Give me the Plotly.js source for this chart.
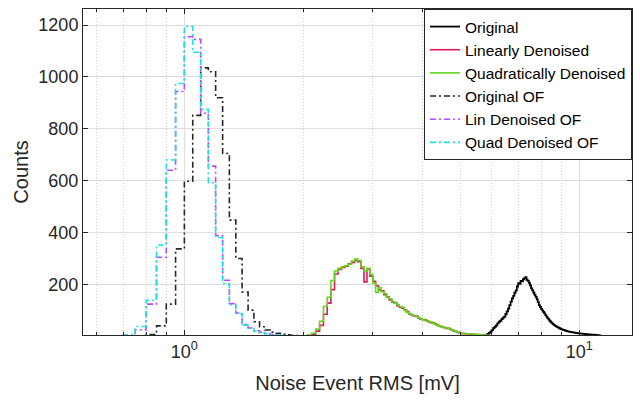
<!DOCTYPE html>
<html>
<head>
<meta charset="utf-8">
<script src="https://cdn.plot.ly/plotly-3.0.1.min.js"></script>
<style>html,body{margin:0;padding:0;background:#fff;}#chart{width:640px;height:400px;}</style>
</head>
<body>
<div id="chart"></div>
<script>
// ---- Data (histogram counts, bin width 0.05 mV) ----
const binWidth = 0.05;

// Optimal-filter (OF) histograms, bins starting at 0.70 mV
const ofBinStart = 0.70;
const originalOF = [0,1,7,40,124,337,598,852,1035,1020,920,705,448,300,171,101,56,37,24,16,12,8,6,4,3,2,1,1,0];
const linDenoisedOF = [4,25,124,305,640,944,1155,1145,860,656,388,216,126,90,46,32,21,15,10,7,5,3,2,2,1,1,0,0,0];
const quadDenoisedOF = [5,38,139,352,680,975,1195,1095,875,592,381,203,122,88,43,30,20,14,10,7,5,3,2,2,1,1,0,0,0];

// Denoised histograms, bins starting at 2.00 mV
const denBinStart = 2.00;
const linearlyDenoised = [
  1,3,8,20,42,85,128,180,240,258,
  265,270,280,285,292,288,262,210,258,232,
  212,195,180,175,160,152,140,132,130,118,
  112,108,102,95,86,82,78,78,70,66,
  64,64,60,55,52,52,48,44,40,38,
  35,34,30,31,26,24,20,19,15,14,
  12,10,11,10,9,9,8,8,8,7,
  7,6,6,5,5,4,3,3,2,1];
const quadraticallyDenoised = [
  2,5,12,28,58,115,150,215,252,262,
  268,272,278,290,298,292,268,250,262,238,
  205,170,188,172,165,150,145,135,128,122,
  115,112,100,92,88,84,80,76,72,68,
  66,62,58,56,55,50,46,42,40,36,
  34,32,33,30,28,25,22,18,16,13,
  12,11,11,10,10,9,9,9,8,8,
  7,7,6,6,5,5,4,3,2,1];

// Original histogram, bins starting at 5.50 mV
const origBinStart = 5.50;
const original = [
  0,0,1,1,2,3,5,9,13,18,
  24,31,36,42,50,56,60,66,72,76,
  86,96,107,120,134,146,156,168,177,192,
  205,202,214,212,220,224,228,218,214,206,
  196,185,177,168,160,152,142,132,120,113,
  106,100,94,88,82,76,70,65,60,56,
  52,48,45,42,39,37,35,33,31,29,
  28,26,25,24,22,21,20,19,18,17,
  17,16,15,15,14,13,13,12,12,11,
  11,10,10,10,9,9,9,8,8,8,
  7,7,7,7,6,6,6,6,6,5,
  5,5,4,4,3,3,2,2,1,1];

const seriesNames = ['Original','Linearly Denoised','Quadratically Denoised','Original OF','Lin Denoised OF','Quad Denoised OF'];
const xTickVals = [1, 10];
const xTickText = ['10<sup>0</sup>', '10<sup>1</sup>'];
const xMinorVals = [0.6,0.7,0.8,0.9,2,3,4,5,6,7,8,9];
const yTickVals = [200,400,600,800,1000,1200];

// ---- build stairs outline from bin start + counts ----
function stairs(start, counts) {
  const xs = [], ys = [];
  const n = counts.length;
  xs.push(start); ys.push(0);
  for (let i = 0; i < n; i++) {
    xs.push(+(start + i * binWidth).toFixed(4));
    ys.push(counts[i]);
  }
  xs.push(+(start + n * binWidth).toFixed(4)); ys.push(counts[n - 1]);
  xs.push(+(start + n * binWidth).toFixed(4)); ys.push(0);
  return {x: xs, y: ys};
}

const FONT = 'Liberation Sans, Arial, Helvetica, sans-serif';
const dashDot = '6px,3px,2px,3px';

function trace(name, data, color, dash, width) {
  return {
    type: 'scatter', mode: 'lines', name: name,
    x: data.x, y: data.y,
    line: {shape: 'hv', color: color, width: width, dash: dash},
    hoverinfo: 'skip'
  };
}

const traces = [
  trace(seriesNames[0], stairs(origBinStart, original), '#000000', 'solid', 1.8),
  trace(seriesNames[1], stairs(denBinStart, linearlyDenoised), '#E0195A', 'solid', 1.6),
  trace(seriesNames[2], stairs(denBinStart, quadraticallyDenoised), '#62D61E', 'solid', 1.6),
  trace(seriesNames[3], stairs(ofBinStart, originalOF), '#262626', dashDot, 1.6),
  trace(seriesNames[4], stairs(ofBinStart, linDenoisedOF), '#B44CFF', dashDot, 1.6),
  trace(seriesNames[5], stairs(ofBinStart, quadDenoisedOF), '#1EE0E6', dashDot, 1.6)
];

const layout = {
  width: 640, height: 400,
  margin: {l: 83, r: 8, t: 9, b: 65, pad: 0},
  paper_bgcolor: '#ffffff', plot_bgcolor: '#ffffff',
  font: {family: FONT, color: '#262626', size: 18},
  showlegend: true,
  legend: {
    x: 1, xanchor: 'right', y: 1, yanchor: 'top',
    bgcolor: '#ffffff', bordercolor: '#262626', borderwidth: 1,
    font: {family: FONT, size: 15.5, color: '#000000'},
    itemwidth: 30, tracegroupgap: 0
  },
  xaxis: {
    type: 'log',
    range: [-0.2567, 1.1335],
    tickmode: 'array', tickvals: xTickVals, ticktext: xTickText,
    ticks: 'inside', ticklen: 5, tickcolor: '#262626',
    showline: true, linecolor: '#262626', linewidth: 1, mirror: 'ticks',
    showgrid: true, gridcolor: '#dedede', gridwidth: 1,
    zeroline: false,
    tickfont: {family: FONT, size: 18, color: '#262626'},
    minor: {tickmode: 'array', tickvals: xMinorVals, ticks: 'inside', ticklen: 3, tickcolor: '#262626',
            showgrid: true, gridcolor: '#cfcfcf', gridwidth: 1, griddash: '1px,2px'},
    title: {text: 'Noise Event RMS [mV]', font: {family: FONT, size: 20, color: '#262626'}, standoff: 15},
    automargin: false
  },
  yaxis: {
    range: [5, 1262],
    tickmode: 'array', tickvals: yTickVals,
    ticks: 'inside', ticklen: 5, tickcolor: '#262626',
    showline: true, linecolor: '#262626', linewidth: 1, mirror: 'ticks',
    showgrid: true, gridcolor: '#dedede', gridwidth: 1,
    zeroline: false,
    tickfont: {family: FONT, size: 18, color: '#262626'},
    title: {text: 'Counts', font: {family: FONT, size: 20, color: '#262626'}, standoff: 4},
    automargin: false
  }
};

Plotly.newPlot('chart', traces, layout, {staticPlot: true, displayModeBar: false});
</script>
</body>
</html>
